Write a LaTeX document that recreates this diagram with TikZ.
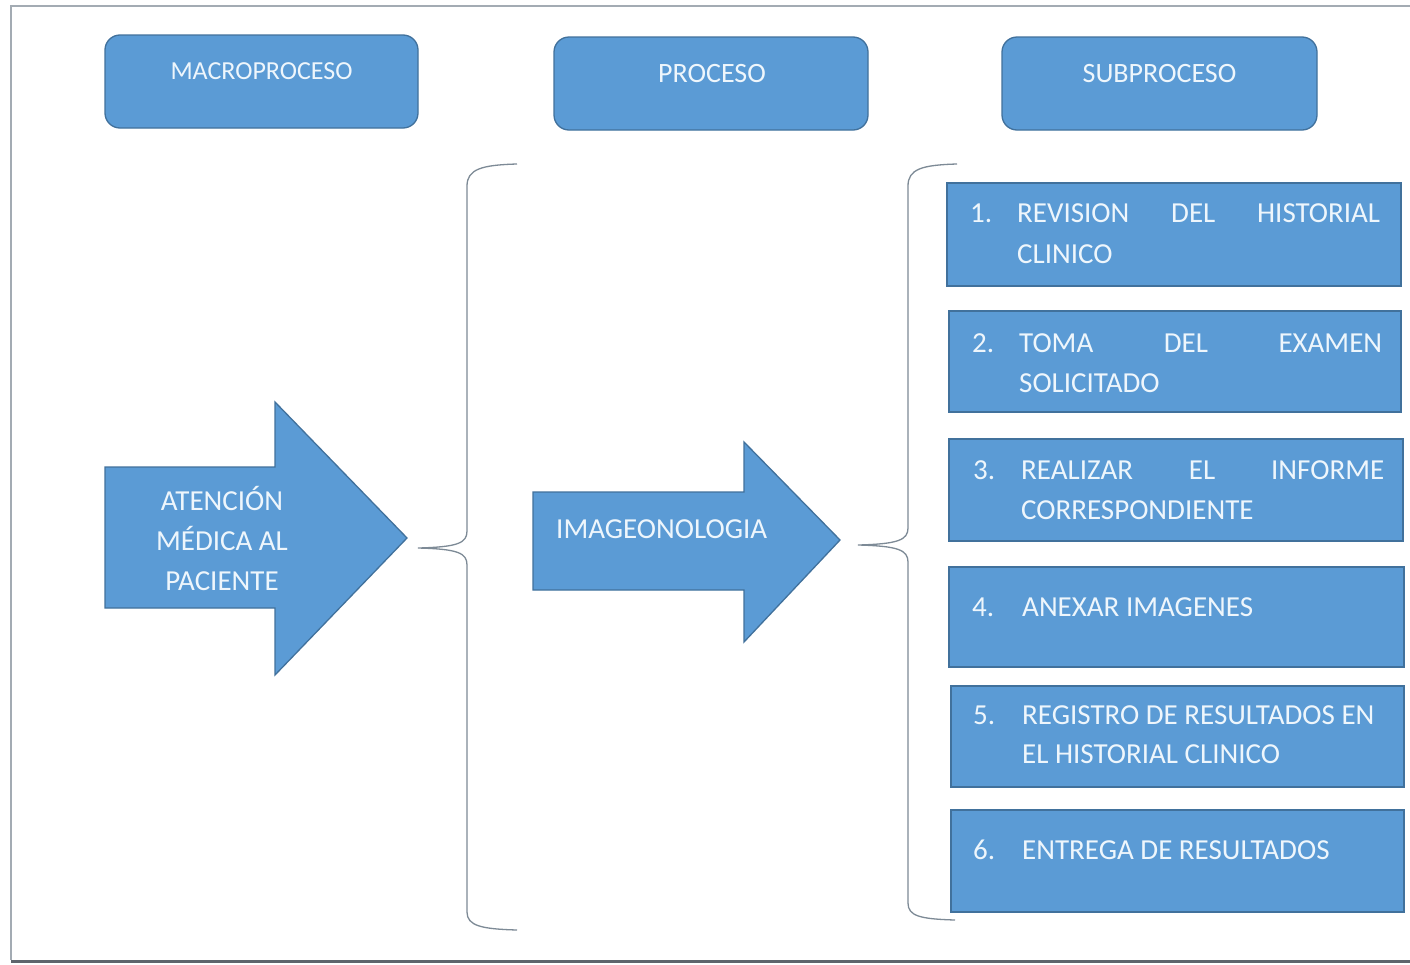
\documentclass[tikz,border=0pt]{standalone}
\usepackage{fontspec}
\setmainfont{Carlito}
\definecolor{boxfill}{HTML}{5B9BD5}
\definecolor{boxedge}{HTML}{41719C}
\definecolor{boxtext}{HTML}{EEF6FC}
\definecolor{bracecol}{HTML}{7D8A96}
\definecolor{framecol}{HTML}{A3ABB3}
\definecolor{framedark}{HTML}{5E656C}
\begin{document}
\begin{tikzpicture}[x=1pt,y=-1pt,
  header/.style={draw=boxedge, fill=boxfill, line width=1.3pt, rounded corners=15pt, inner sep=0pt},
  subbox/.style={draw=boxedge, fill=boxfill, line width=1.3pt, inner sep=0pt},
  bigarrow/.style={draw=boxedge, fill=boxfill, line width=1.3pt, line join=miter},
  txt/.style={text=boxtext, font=\fontsize{29}{40}\selectfont, inner sep=0pt},
  htxt/.style={text=boxtext, font=\fontsize{28}{34}\selectfont, inner sep=0pt, anchor=base},
  brace/.style={draw=bracecol, line width=1.3pt},
]
\useasboundingbox (0,0) rectangle (1410,964);
\fill[white] (0,0) rectangle (1410,964);

% page frame
\draw[framecol, line width=1.2pt] (1410,6) -- (11,6) -- (11,960);
\draw[framedark, line width=3pt] (11,961.5) -- (1410,961.5);

% column headers
\node[header, minimum width=313pt, minimum height=93pt] (hmacro) at (261.5,81.5) {};
\node[header, minimum width=314pt, minimum height=93pt] (hproc) at (711,83.5) {};
\node[header, minimum width=315pt, minimum height=93pt] (hsub) at (1159.5,83.5) {};
\node[htxt, font=\fontsize{26}{30}\selectfont] (tmacro) at (261.5,79) {MACROPROCESO};
\node[htxt] (tproc) at (712,82) {PROCESO};
\node[htxt] (tsub) at (1159.5,82) {SUBPROCESO};

% macroprocess arrow
\draw[bigarrow] (105,467) -- (275,467) -- (275,402) -- (407,538) -- (275,675) -- (275,608) -- (105,608) -- cycle;
\node[txt, align=center, anchor=center] (atencion) at (222,538) {ATENCIÓN\\MÉDICA AL\\PACIENTE};

% process arrow
\draw[bigarrow] (533,492) -- (744,492) -- (744,442) -- (840,540) -- (744,642) -- (744,590) -- (533,590) -- cycle;
\node[txt, anchor=base west] (imageo) at (556,538) {IMAGEONOLOGIA};

% braces
\draw[brace] (517,164) .. controls (482,165) and (467,169) .. (467,186)
  -- (467,531) .. controls (467,543) and (458,547) .. (418,548)
  .. controls (458,549) and (467,553) .. (467,565)
  -- (467,912) .. controls (467,926) and (482,929) .. (517,930);
\draw[brace] (957,164) .. controls (922,165) and (908,169) .. (908,186)
  -- (908,528) .. controls (908,540) and (898,544) .. (858,545)
  .. controls (898,546) and (908,550) .. (908,562)
  -- (908,903) .. controls (908,916) and (920,919) .. (955,920);

% subprocess steps
\node[subbox, minimum width=454pt, minimum height=103pt] (s1) at (1174,234.5) {};
\node[subbox, minimum width=452pt, minimum height=101pt] (s2) at (1175,361.5) {};
\node[subbox, minimum width=454pt, minimum height=102pt] (s3) at (1176,490) {};
\node[subbox, minimum width=455pt, minimum height=100pt] (s4) at (1176.5,617) {};
\node[subbox, minimum width=453pt, minimum height=101pt] (s5) at (1177.5,736.5) {};
\node[subbox, minimum width=453pt, minimum height=102pt] (s6) at (1177.5,861) {};

\node[txt, anchor=base west] (n1) at (970,222) {1.};
\node[txt, anchor=base west] (l1a) at (1017,222) {\makebox[363pt][s]{REVISION DEL HISTORIAL}};
\node[txt, anchor=base west] (l1b) at (1017,263) {CLINICO};

\node[txt, anchor=base west] (n2) at (972,352) {2.};
\node[txt, anchor=base west] (l2a) at (1019,352) {\makebox[363pt][s]{TOMA DEL EXAMEN}};
\node[txt, anchor=base west] (l2b) at (1019,392) {SOLICITADO};

\node[txt, anchor=base west] (n3) at (973,479) {3.};
\node[txt, anchor=base west] (l3a) at (1021,479) {\makebox[363pt][s]{REALIZAR EL INFORME}};
\node[txt, anchor=base west] (l3b) at (1021,519) {CORRESPONDIENTE};

\node[txt, anchor=base west] (n4) at (972,616) {4.};
\node[txt, anchor=base west] (l4a) at (1022,616) {ANEXAR IMAGENES};

\node[txt, anchor=base west] (n5) at (973,724) {5.};
\node[txt, anchor=base west] (l5a) at (1022,724) {REGISTRO DE RESULTADOS EN};
\node[txt, anchor=base west] (l5b) at (1022,763) {EL HISTORIAL CLINICO};

\node[txt, anchor=base west] (n6) at (973,859) {6.};
\node[txt, anchor=base west] (l6a) at (1022,859) {ENTREGA DE RESULTADOS};
\end{tikzpicture}
\end{document}
